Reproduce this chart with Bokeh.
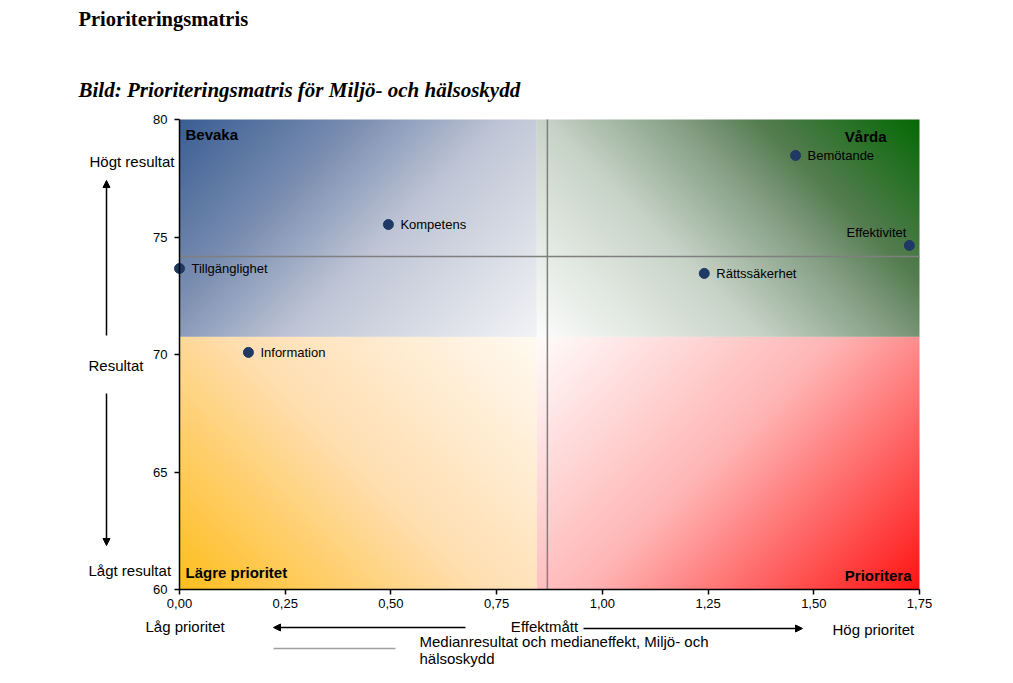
import numpy as np
from bokeh.plotting import figure
from bokeh.models import (Label, Arrow, NormalHead, FixedTicker, LinearAxis,
                          CustomJSTickFormatter, Range1d, ColumnDataSource)
from bokeh.core.properties import value
from bokeh.embed import file_html
from bokeh.resources import INLINE

# ---------------- data ----------------
names = ["Bemötande", "Kompetens", "Effektivitet", "Tillgänglighet", "Rättssäkerhet", "Information"]
effekt = [1.457, 0.494, 1.726, 0.0, 1.241, 0.163]
resultat = [78.47, 75.53, 74.64, 73.66, 73.45, 70.09]
x_ticks = [0.0, 0.25, 0.5, 0.75, 1.0, 1.25, 1.5, 1.75]
y_ticks = [60, 65, 70, 75, 80]
median_effekt = 0.87
median_resultat = 74.17
quadrant_names = ["Bevaka", "Vårda", "Lägre prioritet", "Prioritera"]
split_x = 0.845
split_y = 70.75

# axis limits and the pixel box they occupy on the canvas
X0, X1 = 0.0, 1.75
Y0, Y1 = 60.0, 80.0
BOX_L, BOX_T, BOX_W, BOX_H = 179, 119, 740, 470
W, H = 1005, 675


def dx(px):
    """canvas pixel x -> data x"""
    return X0 + (px - BOX_L) / BOX_W * (X1 - X0)


def dy(py):
    """canvas pixel y -> data y"""
    return Y1 - (py - BOX_T) / BOX_H * (Y1 - Y0)


SANS = "Liberation Sans"
SERIF = "Liberation Serif"

# the frame covers the whole canvas so that every annotation can be drawn
p = figure(width=W, height=H,
           x_range=Range1d(dx(0), dx(W)), y_range=Range1d(dy(H), dy(0)),
           x_axis_location=None, y_axis_location=None,
           output_backend="svg", toolbar_location=None,
           min_border=0)
p.outline_line_color = None
p.grid.visible = False
p.background_fill_color = "white"
p.border_fill_color = "white"


# ---------------- gradient quadrants ----------------
def gradient(nx, ny, corner, stops, pw, ph):
    u = np.linspace(0, 1, nx)[None, :].repeat(ny, 0)      # 0 left -> 1 right
    w = np.linspace(0, 1, ny)[:, None].repeat(nx, 1)      # 0 bottom -> 1 top
    fu = u if corner in ("tl", "bl") else 1 - u
    fv = (1 - w) if corner in ("tl", "tr") else w
    t = (fu * pw + fv * ph) / (pw + ph)
    pos = [s[0] for s in stops]
    img = np.empty((ny, nx), dtype=np.uint32)
    view = img.view(dtype=np.uint8).reshape((ny, nx, 4))
    for c in range(3):
        view[:, :, c] = np.interp(t, pos, [s[1][c] for s in stops]).astype(np.uint8)
    view[:, :, 3] = 255
    return img


quads = [
    # x, y, dw, dh, dark corner, colour stops
    (X0, split_y, split_x - X0, Y1 - split_y, "tl",
     [(0, (58, 94, 148)), (0.3, (120, 140, 176)), (0.57, (192, 198, 214)), (1, (242, 243, 246))]),
    (split_x, split_y, X1 - split_x, Y1 - split_y, "tr",
     [(0, (5, 105, 5)), (0.27, (85, 125, 80)), (0.41, (135, 160, 135)),
      (0.63, (200, 212, 200)), (1, (252, 252, 252))]),
    (X0, Y0, split_x - X0, split_y - Y0, "bl",
     [(0, (255, 190, 30)), (0.49, (255, 222, 175)), (1, (255, 250, 242))]),
    (split_x, Y0, X1 - split_x, split_y - Y0, "br",
     [(0, (255, 20, 20)), (0.52, (255, 180, 180)), (1, (255, 252, 252))]),
]
for (qx, qy, qw, qh, corner, stops) in quads:
    pw = qw / (X1 - X0) * BOX_W
    ph = qh / (Y1 - Y0) * BOX_H
    p.image_rgba(image=[gradient(300, 200, corner, stops, pw, ph)], x=qx, y=qy, dw=qw, dh=qh)

# ---------------- median lines ----------------
p.segment(x0=[median_effekt, X0], y0=[Y0, median_resultat],
          x1=[median_effekt, X1], y1=[Y1, median_resultat],
          line_color="#7f7f7f", line_width=1.5)

# ---------------- points ----------------
align = ["left"] * len(names)
xoff = [12] * len(names)
yoff = [0] * len(names)
i_eff = names.index("Effektivitet")
align[i_eff] = "right"
xoff[i_eff] = -3
yoff[i_eff] = -13
src = ColumnDataSource(dict(x=effekt, y=resultat, name=names, align=align, xoff=xoff, yoff=yoff))
p.scatter("x", "y", source=src, size=10, fill_color="#1f3864", line_color="#1f3864")
p.text("x", "y", text="name", source=src, text_align="align", text_baseline="middle",
       x_offset="xoff", y_offset="yoff", text_font=value(SANS), text_font_size="13px",
       text_color="black")

# ---------------- quadrant labels ----------------
q_pos = [(185, 134, "left"), (886, 136, "right"), (185, 572, "left"), (911, 575, "right")]
for name, (qx, qy, qa) in zip(quadrant_names, q_pos):
    p.add_layout(Label(x=dx(qx), y=dy(qy), text=name, text_align=qa, text_baseline="middle",
                       text_font=SANS, text_font_size="15px", text_font_style="bold",
                       text_color="black"))

# ---------------- axes ----------------
xaxis = LinearAxis(fixed_location=Y0, bounds=(X0, X1), ticker=FixedTicker(ticks=x_ticks),
                   formatter=CustomJSTickFormatter(code="return tick.toFixed(2).replace('.', ',');"))
yaxis = LinearAxis(fixed_location=X0, bounds=(Y0, Y1), ticker=FixedTicker(ticks=y_ticks))
for ax in (xaxis, yaxis):
    ax.axis_line_color = "black"
    ax.axis_line_width = 1.5
    ax.major_tick_line_color = "black"
    ax.major_tick_line_width = 1.5
    ax.major_tick_out = 5
    ax.major_tick_in = 0
    ax.minor_tick_line_color = None
    ax.major_label_text_font = SANS
    ax.major_label_text_font_size = "13px"
    ax.major_label_text_color = "black"
xaxis.major_label_standoff = 4
yaxis.major_label_standoff = 7
p.add_layout(xaxis, "below")
p.add_layout(yaxis, "left")

# ---------------- titles ----------------
p.add_layout(Label(x=dx(78), y=dy(18), text="Prioriteringsmatris", text_baseline="middle",
                   text_font=SERIF, text_font_size="20.5px", text_font_style="bold",
                   text_color="black"))
p.add_layout(Label(x=dx(78), y=dy(89), text="Bild: Prioriteringsmatris för Miljö- och hälsoskydd",
                   text_baseline="middle", text_font=SERIF, text_font_size="21px",
                   text_font_style="bold italic", text_color="black"))

# ---------------- side / bottom annotations ----------------
side_texts = [
    (89, 161, "Högt resultat", "left"),
    (88, 365, "Resultat", "left"),
    (88, 570, "Lågt resultat", "left"),
    (145, 626, "Låg prioritet", "left"),
    (544, 626, "Effektmått", "center"),
    (832, 629, "Hög prioritet", "left"),
    (419, 641, "Medianresultat och medianeffekt, Miljö- och", "left"),
    (419, 658, "hälsoskydd", "left"),
]
for (tx, ty, t, a) in side_texts:
    p.add_layout(Label(x=dx(tx), y=dy(ty), text=t, text_align=a, text_baseline="middle",
                       text_font=SANS, text_font_size="15px", text_color="black"))

arrows = [
    (106, 335, 106, 180),
    (106, 393, 106, 545),
    (465, 627, 273, 627),
    (583, 628, 802, 628),
]
for (ax0, ay0, ax1, ay1) in arrows:
    p.add_layout(Arrow(x_start=dx(ax0), y_start=dy(ay0), x_end=dx(ax1), y_end=dy(ay1),
                       line_color="black", line_width=1.5,
                       end=NormalHead(size=7, fill_color="black", line_color="black")))

# legend line for the medians
p.add_layout(Arrow(x_start=dx(273), y_start=dy(648), x_end=dx(395), y_end=dy(648),
                   line_color="#a0a0a0", line_width=1.5, end=None))

open("out.html", "w").write(file_html(p, INLINE))
